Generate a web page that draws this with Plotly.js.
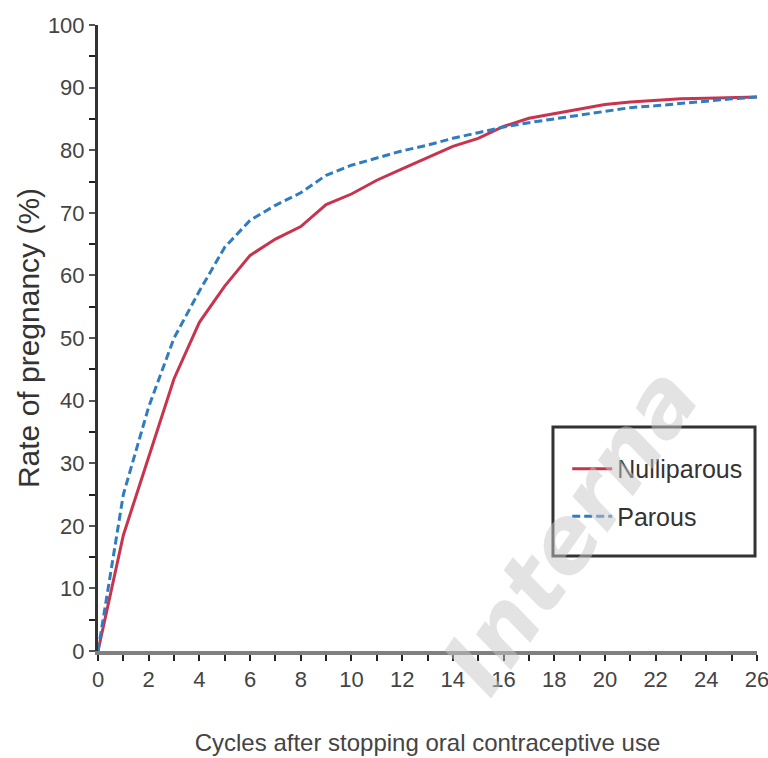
<!DOCTYPE html>
<html>
<head>
<meta charset="utf-8">
<script src="https://cdn.plot.ly/plotly-3.0.1.min.js"></script>
<style>html,body{margin:0;padding:0;background:#fff;}#chart{width:768px;height:758px;}</style>
</head>
<body>
<div id="chart"></div>
<script>
const cycles = [0,1,2,3,4,5,6,7,8,9,10,11,12,13,14,15,16,17,18,19,20,21,22,23,24,25,26];
const nulliparous = [0,18.5,31,43.5,52.5,58.3,63.2,65.8,67.8,71.3,73,75.2,77,78.8,80.6,81.9,83.8,85.1,85.8,86.6,87.3,87.7,88,88.2,88.3,88.4,88.5];
const parous = [0,25,39,50,57.5,64.5,68.8,71.2,73.2,76,77.6,78.8,79.9,80.8,81.9,82.8,83.7,84.4,85,85.7,86.3,86.8,87.1,87.5,87.9,88.2,88.5];
const xTickVals = [0,2,4,6,8,10,12,14,16,18,20,22,24,26];
const yTickVals = [0,10,20,30,40,50,60,70,80,90,100];
const names = ["Nulliparous","Parous"];
const xTitle = "Cycles after stopping oral contraceptive use";
const yTitle = "Rate of pregnancy (%)";
const watermark = "Interna";

const FONT = "'Liberation Sans', Arial, sans-serif";

const traces = [
  {x: cycles, y: nulliparous, name: names[0], legendgroup: "a", mode: "lines", type: "scatter",
   line: {color: "#c8344e", width: 3}},
  {x: cycles, y: parous, name: names[1], legendgroup: "b", mode: "lines", type: "scatter",
   line: {color: "#2f7cc0", width: 3, dash: "8px,4px"}}
];

const layout = {
  width: 768, height: 758,
  margin: {l: 98, r: 11, t: 25, b: 107},
  paper_bgcolor: "#fff", plot_bgcolor: "#fff",
  font: {family: FONT, color: "#333", size: 22},
  showlegend: true,
  legend: {
    x: 0.712, y: 0.3275, xanchor: "left", yanchor: "top",
    borderwidth: 0, bgcolor: "rgba(255,255,255,0)",
    font: {family: FONT, size: 25, color: "#333"},
    itemwidth: 40, tracegroupgap: 12, traceorder: "grouped"
  },
  shapes: [
    {type: "rect", xref: "paper", yref: "paper", x0: 0.6904, x1: 0.997, y0: 0.1518, y1: 0.3578,
     line: {color: "#333", width: 3}, fillcolor: "rgba(0,0,0,0)"}
  ],
  xaxis: {
    range: [0, 26], tickvals: xTickVals, ticktext: xTickVals.map(String), automargin: false,
    ticklabeloverflow: "allow",
    showgrid: false, zeroline: false, showline: true, linecolor: "#808080", linewidth: 4,
    ticks: "outside", ticklen: 6, tickwidth: 2, tickcolor: "#222",
    minor: {dtick: 1, ticks: "outside", ticklen: 6, tickwidth: 2, tickcolor: "#222", showgrid: false},
    tickfont: {family: FONT, size: 22, color: "#444"},
    title: {text: xTitle, font: {family: FONT, size: 24, color: "#444"}, standoff: 44}
  },
  yaxis: {
    range: [0, 100], tickvals: yTickVals, ticktext: yTickVals.map(String), automargin: false,
    showgrid: false, zeroline: false, showline: true, linecolor: "#333", linewidth: 3,
    ticks: "outside", ticklen: 6, tickwidth: 2, tickcolor: "#555",
    minor: {dtick: 5, ticks: "outside", ticklen: 6, tickwidth: 2, tickcolor: "#222", showgrid: false},
    tickfont: {family: FONT, size: 22, color: "#444"},
    title: {text: yTitle, font: {family: FONT, size: 30, color: "#333"}, standoff: 0}
  },
  annotations: [
    {text: "<b><i>" + watermark + "</i></b>", xref: "paper", yref: "paper",
     x: (570 - 98) / 659, y: (651 - 530) / 626, xanchor: "center", yanchor: "middle", showarrow: false,
     textangle: -55, font: {family: "DejaVu Sans", size: 90, color: "rgba(200,200,200,0.5)"}}
  ]
};

Plotly.newPlot("chart", traces, layout, {displayModeBar: false, staticPlot: true});
</script>
</body>
</html>
